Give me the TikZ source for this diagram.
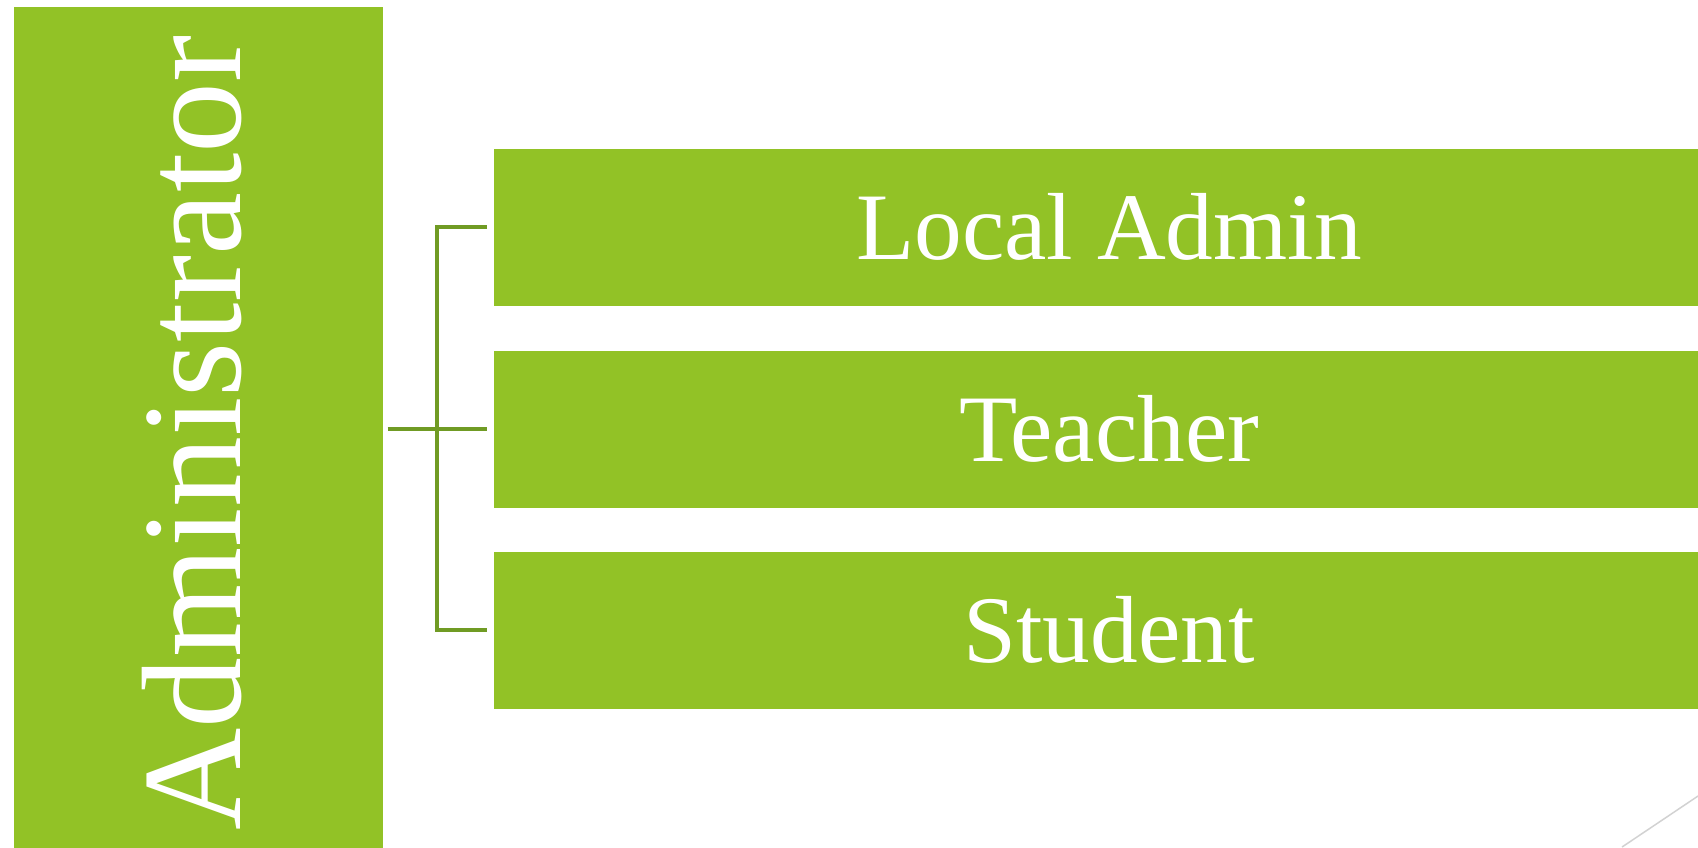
\documentclass[tikz,border=0pt]{standalone}
\usepackage{fontspec}
\setmainfont{Liberation Serif}
\usetikzlibrary{calc}
\definecolor{leaf}{HTML}{92C226}
\definecolor{stem}{HTML}{709B24}
\tikzset{
  greenbox/.style={fill=leaf, draw=none, inner sep=0pt, anchor=north west},
  rolebox/.style={greenbox, minimum width=12.30cm, minimum height=1.57cm, text=white, font=\fontsize{27.1pt}{30pt}\selectfont},
  conn/.style={draw=stem, line width=0.04cm},
}
\begin{document}
\begin{tikzpicture}[x=0.01cm, y=-0.01cm]
\useasboundingbox (0,0) rectangle (1698,847);
\node[greenbox, minimum width=3.69cm, minimum height=8.60cm] (admin) at (13,6) {};
\node[rotate=90, anchor=base, text=white, font=\fontsize{40.3pt}{44pt}\selectfont] (admintext) at (240,433) {Administrator};
\node[rolebox] (local) at (493,148) {Local Admin};
\node[rolebox] (teacher) at (493,350) {Teacher};
\node[rolebox] (student) at (493,551) {Student};
\coordinate (j) at (437,428);
\draw[conn] ([xshift=0.04cm]admin.east |- teacher.west) -- ([xshift=-0.06cm]teacher.west);
\draw[conn] ([xshift=-0.06cm]local.west) -| (j) |- ([xshift=-0.06cm]student.west);
\coordinate (g1) at (1622,847);
\coordinate (g2) at (1698,796);
\draw[gray!35, line width=0.015cm] (g1) -- (g2);
\end{tikzpicture}
\end{document}
